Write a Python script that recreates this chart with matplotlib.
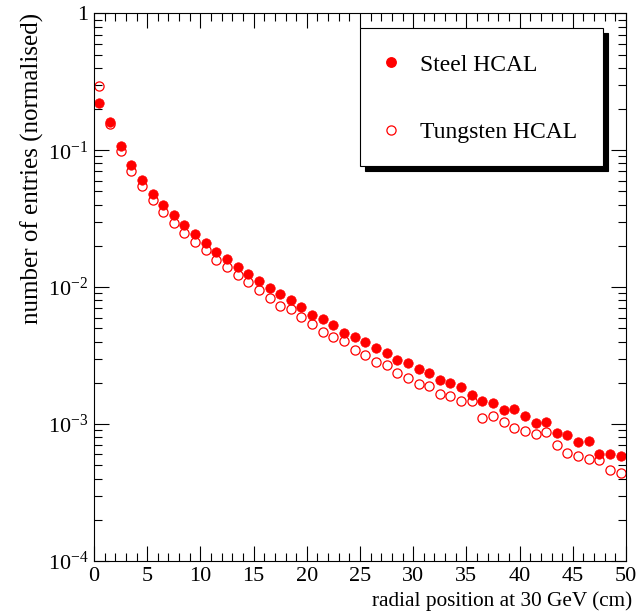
import numpy as np
import matplotlib
matplotlib.use("Agg")
import matplotlib.pyplot as plt
from matplotlib.lines import Line2D
from matplotlib.patches import Rectangle
from matplotlib.ticker import FixedLocator, FuncFormatter, MultipleLocator, LogLocator, NullFormatter

plt.rcParams['font.family'] = ['Liberation Serif', 'DejaVu Serif']
plt.rcParams['mathtext.fontset'] = 'custom'
plt.rcParams['mathtext.rm'] = 'Liberation Serif'
plt.rcParams['mathtext.it'] = 'Liberation Serif:italic'

# bin centres (cm)
radius = np.arange(0.5, 50, 1.0)

# normalised entries per radial bin
steel = [0.220, 0.162, 0.1075, 0.0781, 0.0604, 0.0482, 0.0401, 0.0335, 0.0284, 0.0244,
         0.0209, 0.0180, 0.0160, 0.01406, 0.0125, 0.01112, 0.00988, 0.00889, 0.00804, 0.00718,
         0.00628, 0.00587, 0.00528, 0.00466, 0.00432, 0.00397, 0.00359, 0.00330, 0.00295, 0.00279,
         0.00253, 0.00236, 0.00211, 0.00199, 0.00185, 0.00162, 0.00147, 0.00143, 0.00127, 0.00129,
         0.00114, 0.00102, 0.00104, 0.000864, 0.000836, 0.000739, 0.000755, 0.000607, 0.000607, 0.000587]

tungsten = [0.2946, 0.1556, 0.0988, 0.0710, 0.0549, 0.0432, 0.0356, 0.0296, 0.0250, 0.0215,
            0.0187, 0.01577, 0.01394, 0.01219, 0.01093, 0.00956, 0.00831, 0.00730, 0.00694, 0.00607,
            0.00539, 0.00469, 0.00434, 0.00403, 0.00350, 0.00317, 0.00284, 0.00270, 0.00238, 0.00218,
            0.00197, 0.00191, 0.00166, 0.00159, 0.00148, 0.00148, 0.00111, 0.00115, 0.00104, 0.000935,
            0.000894, 0.000845, 0.000874, 0.000706, 0.000614, 0.000587, 0.000558, 0.000546, 0.000461, 0.000440]

labels = ["Steel HCAL", "Tungsten HCAL"]

fig = plt.figure(figsize=(6.39, 6.16), dpi=100)
ax = fig.add_axes([94/639, 1 - 561/616, 532/639, 547.7/616])

ax.plot(radius, tungsten, 'o', ls='none', ms=6.6, mfc='none', mec='red', mew=0.9)
ax.plot(radius, steel, 'o', ls='none', ms=6.8, mfc='red', mec='red', mew=0.5)

ax.set_yscale('log')
ax.set_xlim(0, 50)
ax.set_ylim(1e-4, 1)

ax.xaxis.set_major_locator(MultipleLocator(5))
ax.xaxis.set_minor_locator(MultipleLocator(1))
ax.yaxis.set_major_locator(FixedLocator([1e-4, 1e-3, 1e-2, 1e-1, 1]))
ax.yaxis.set_minor_locator(LogLocator(base=10, subs=np.arange(2, 10)))
ax.yaxis.set_minor_formatter(NullFormatter())


def ylab(v, pos):
    e = int(round(np.log10(v)))
    if e == 0:
        return "1"
    return r"$10^{%d}$" % e


ax.yaxis.set_major_formatter(FuncFormatter(ylab))

ax.tick_params(which='both', direction='in', top=True, right=True, width=0.8, colors='black')
ax.tick_params(which='major', length=11, labelsize=16)
ax.tick_params(which='minor', length=5.5)
ax.tick_params(axis='x', pad=4)
ax.tick_params(axis='y', pad=4)
for s in ax.spines.values():
    s.set_linewidth(0.8)

ax.set_xlabel("radial position at 30 GeV (cm)", fontsize=15.3, loc='right', labelpad=4)
ax.xaxis.label.set_x(1.011)
ax.set_ylabel("number of entries (normalised)", fontsize=18, loc='top', labelpad=3)

# legend box with ROOT-style shadow
fig.add_artist(Rectangle((365/639, 1 - 170.5/616), 243/639, 137.5/616, transform=fig.transFigure,
                         facecolor='black', edgecolor='black', lw=0.8))
fig.add_artist(Rectangle((359.5/639, 1 - 165.5/616), 243.5/639, 137.5/616, transform=fig.transFigure,
                         facecolor='white', edgecolor='black', lw=0.8))

handles = [Line2D([], [], ls='none', marker='o', ms=6.8, mfc='red', mec='red'),
           Line2D([], [], ls='none', marker='o', ms=6.6, mfc='none', mec='red', mew=0.9)]
leg = fig.legend(handles, labels, loc='upper left', bbox_to_anchor=(379/639, 1 - 54/616),
                 bbox_transform=fig.transFigure, frameon=False,
                 prop={'family': 'Liberation Serif', 'size': 17}, borderpad=0,
                 borderaxespad=0, handlelength=1.0, handletextpad=0.72, labelspacing=1.95)

fig.savefig("out.png", dpi=100)
